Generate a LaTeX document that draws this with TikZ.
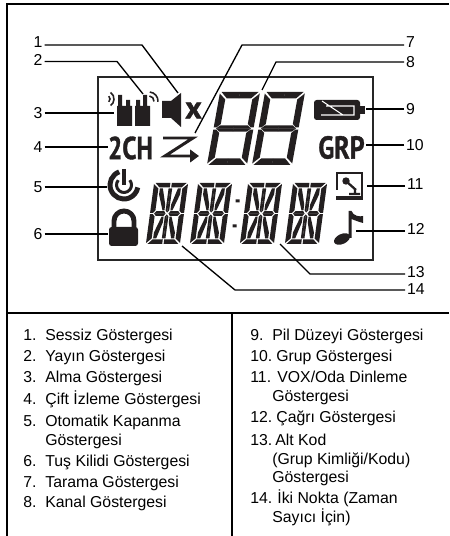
\documentclass[tikz,border=0pt]{standalone}
\usepackage{fontspec}
\setmainfont{Liberation Sans}
\newfontfamily\lcdfont{PT Sans}[BoldFeatures={FakeBold=1.2}]
\usetikzlibrary{arrows.meta}
\definecolor{lcdink}{HTML}{231F20}
\tikzset{
  bigdigit/.pic={
    \begin{scope}[xslant=.18]
      \foreach \sx in {1,-1} \foreach \sy in {1,-1} {
        \fill[lcdink, xscale=\sx, yscale=\sy]
          (-18.5,-36.5) -- (.1,-36.5) -- (.1,-30) -- (-12,-30) -- cycle
          (-20,-35) -- (-13.5,-29) -- (-13.5,-4.5) -- (-17,-1.2) -- (-20,-1.2) -- cycle
          (-17.5,.05) -- (-13.5,-3.2) -- (.1,-3.2) -- (.1,.05) -- cycle;
      }
    \end{scope}
  },
  alphachar/.pic={
    \begin{scope}[xslant=.135]
      \foreach \sx in {1,-1} \foreach \sy in {1,-1} {
        \fill[lcdink, xscale=\sx, yscale=\sy]
          (-15.5,-30.5) -- (-.7,-30.5) -- (-.7,-26) -- (-11,-26) -- cycle
          (-17,-29.5) -- (-12,-25) -- (-12,-3) -- (-14,-.7) -- (-17,-.7) -- cycle
          (-13,.05) -- (-11,-2.3) -- (-3,-2.3) -- (-1.5,.05) -- cycle
          (-1.8,-25) -- (.05,-25) -- (.05,-1) -- (-1.8,-3) -- cycle
          (-10.5,-25) -- (-7.5,-25) -- (-3,-9) -- (-3,-3.2) -- (-5,-3.2) -- (-10.5,-19) -- cycle;
      }
    \end{scope}
  }
}

\begin{document}
\begin{tikzpicture}[
  x=.02cm, y=-.02cm, font=\fontsize{9}{11}\selectfont,
  frameline/.style={line width=1.1pt},
  leader/.style={line width=.75pt, miter limit=20},
  callout/.style={inner sep=1pt},
  listtext/.style={anchor=base west, inner sep=0pt},
  lcdtext/.style={lcdink, font=\fontsize{18}{18}\lcdfont\bfseries, inner sep=0pt, transform shape},
]
\useasboundingbox (0,0) rectangle (449,536);

% frame
\draw[frameline] (7,536) -- (7,4) -- (449,4);
\draw[frameline] (7,313) -- (449,313);
\draw[frameline] (232,313) -- (232,536);
\draw[line width=.6pt, black!85] (98,77) rectangle (373,260);

% segment groups
\pic (chan1) at (233.5,128.5) {bigdigit};
\pic (chan2) at (278.5,128.5) {bigdigit};
\pic (code1) at (167,213.5) {alphachar};
\pic (code2) at (211,213.5) {alphachar};
\pic (code3) at (261,213.5) {alphachar};
\pic (code4) at (306,213.5) {alphachar};
\fill[lcdink] (235.5,199.5) rectangle (239.5,202.5) (232.5,224.5) rectangle (236.5,227.5);

% radios
\fill[lcdink] (117,106) rectangle (132,126) (118,95) rectangle (122,106) (126,100) rectangle (130,106);
\fill[lcdink] (135,106) rectangle (150,126) (143,95) rectangle (147,106) (136,100) rectangle (140,106);
\draw[lcdink, line width=.9pt] (106,99) ++(-45:4) arc (-45:45:4) (106,99) ++(-55:8) arc (-55:55:8);
\draw[lcdink, line width=.9pt] (149,101) ++(-85:5) arc (-85:5:5) (149,101) ++(-85:9) arc (-85:5:9);

% speaker and scan
\fill[lcdink] (162,101) -- (171,101) -- (181,93) -- (181,127) -- (171,118) -- (162,118) -- cycle;
\node[lcdtext] (mutex) at (193.5,110.5) {x};
\draw[lcdink, line width=1.7pt, miter limit=20, -{Triangle[length=5pt,width=7pt]}]
  (163,138) -- (193,138) -- (165,156) -- (199,156);
\node[lcdtext, xscale=.8] (dual) at (130.5,148) {2CH};
\node[lcdtext, xscale=.82] (group) at (341.5,147.5) {GRP};

% power and lock
\draw[lcdink, line width=2.8pt] (124,185) ++(-110:14) arc (-110:-350:14);
\draw[lcdink, line width=1.7pt] (124,185) ++(-140:7.5) arc (-140:-400:7.5);
\draw[lcdink, line width=2pt] (124,169) -- (124,185);
\fill[lcdink, rounded corners=1.5pt] (109,227) rectangle (138,246);
\draw[lcdink, line width=2.8pt] (114,228) -- (114,221) arc (180:360:10) -- (134,228);

% battery
\fill[lcdink, rounded corners=1.5pt] (314,100) rectangle (360,120);
\fill[lcdink] (359,106) rectangle (365,114);
\draw[white, line width=.6pt] (326,106) -- (354,106) -- (354,115) -- (321,115) (322,101) -- (343,115);

% vox box
\draw[lcdink, line width=1.3pt] (337,190) -- (337,173) -- (362,173) -- (362,199);
\fill[lcdink] (336,196) rectangle (363,200);
\fill[lcdink] (346,181) circle (3.7);
\draw[lcdink, line width=1.3pt] (347,182) -- (356,190) (355,190) -- (355,194) (349,194) -- (360,194);

% note
\fill[lcdink, rotate around={25:(342,239)}] (342,239) ellipse (8.5 and 5);
\fill[lcdink] (348.5,238) -- (348.5,211) -- (351.5,211)
  .. controls (353,216) and (360,217) .. (363,216)
  -- (363,223) .. controls (359,222) and (354,220) .. (351.5,219) -- (351.5,238) -- cycle;

% leader ends
\coordinate (bend1) at (142,45);
\coordinate (bend2) at (117,61.5);
\coordinate (bend7) at (242,45);
\coordinate (bend8) at (276,62);
\coordinate (bend13) at (310,274);
\coordinate (bend14) at (235,290);
\coordinate (mute) at (178,93);
\coordinate (transmit) at (143,94);
\coordinate (receive) at (114,113);
\coordinate (dualend) at (108,147);
\coordinate (power) at (107,187);
\coordinate (lock) at (108,234);
\coordinate (scan) at (195,133);
\coordinate (channel) at (262,90);
\coordinate (batteryend) at (366,109);
\coordinate (groupend) at (366,145);
\coordinate (voxend) at (367,186);
\coordinate (noteend) at (356,231);
\coordinate (codeend) at (280,244);
\coordinate (colonend) at (182,246);

% callout numbers
\node[callout] (n1) at (38,42) {1};
\node[callout] (n2) at (38,60) {2};
\node[callout] (n3) at (38,113) {3};
\node[callout] (n4) at (38,147) {4};
\node[callout] (n5) at (38,187) {5};
\node[callout] (n6) at (38,234) {6};
\node[callout, anchor=west] (n7) at (404,42) {7};
\node[callout, anchor=west] (n8) at (404,62) {8};
\node[callout, anchor=west] (n9) at (404,109) {9};
\node[callout, anchor=west] (n10) at (404,145) {10};
\node[callout, anchor=west] (n11) at (405,184) {11};
\node[callout, anchor=west] (n12) at (405,229) {12};
\node[callout, anchor=west] (n13) at (405,272) {13};
\node[callout, anchor=west] (n14) at (405,289) {14};

% leaders
\draw[leader] (n1.east |- bend1) -- (bend1) -- (mute);
\draw[leader] (n2.east |- bend2) -- (bend2) -- (transmit);
\draw[leader] (n3.east) -- (receive);
\draw[leader] (n4.east) -- (dualend);
\draw[leader] (n5.east) -- (power);
\draw[leader] (n6.east) -- (lock);
\draw[leader] (n7.west |- bend7) -- (bend7) -- (scan);
\draw[leader] (n8.west) -- (bend8) -- (channel);
\draw[leader] (n9.west) -- (batteryend);
\draw[leader] (n10.west) -- (groupend);
\draw[leader] (n11.west |- voxend) -- (voxend);
\draw[leader] (n12.west |- noteend) -- (noteend);
\draw[leader] (n13.west |- bend13) -- (bend13) -- (codeend);
\draw[leader] (n14.west |- bend14) -- (bend14) -- (colonend);

% lists
\foreach \y/\n/\t [count=\i] in {
  340/1./{Sessiz Göstergesi}, 361/2./{Yayın Göstergesi}, 382/3./{Alma Göstergesi},
  404/4./{Çift İzleme Göstergesi}, 426/5./{Otomatik Kapanma}, 445//{Göstergesi},
  466/6./{Tuş Kilidi Göstergesi}, 487/7./{Tarama Göstergesi}, 507/8./{Kanal Göstergesi}} {
  \node[listtext] (ln\i) at (23,\y) {\n};
  \node[listtext] (lt\i) at (45,\y) {\t};
}
\foreach \y/\n/\x/\t [count=\i] in {
  340/9./272/{Pil Düzeyi Göstergesi}, 361/10./276/{Grup Göstergesi}, 382/11./277/{VOX/Oda Dinleme},
  401//272/{Göstergesi}, 422/12./276/{Çağrı Göstergesi}, 445/13./275/{Alt Kod},
  464//272/{(Grup Kimliği/Kodu)}, 482//272/{Göstergesi}, 503/14./277/{İki Nokta (Zaman},
  522//272/{Sayıcı İçin)}} {
  \node[listtext] (rn\i) at (250,\y) {\n};
  \node[listtext] (rt\i) at (\x,\y) {\t};
}

\end{tikzpicture}
\end{document}
